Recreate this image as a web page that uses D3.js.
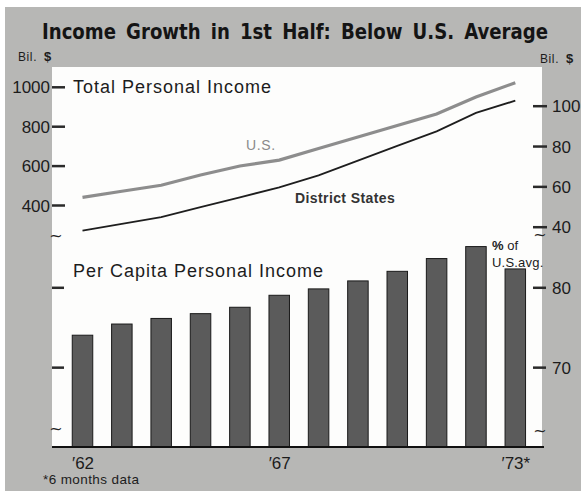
<!DOCTYPE html>
<html>
<head>
<meta charset="utf-8">
<script src="https://cdn.jsdelivr.net/npm/d3@7"></script>
<style>
  body { margin: 0; background: #fff; }
  svg { display: block; font-family: "Liberation Sans", Arial, sans-serif; }
  .axis path.domain { display: none; }
  .axis line { stroke: #2a2a2a; stroke-width: 2.5; }
  .axis text { font-size: 17px; fill: #1c1c1c; }
</style>
</head>
<body>
<div id="chart"></div>
<script>
// data
const years = [1962, 1963, 1964, 1965, 1966, 1967, 1968, 1969, 1970, 1971, 1972, 1973];
const usTotal = [439, 470, 500, 552, 598, 628, 687, 745, 804, 862, 948, 1021];          // left axis, bil $
const districtTotal = [38.1, 41.4, 44.8, 49.7, 54.6, 59.5, 65.5, 72.8, 80.1, 87.3, 96.4, 102.5]; // right axis, bil $
const perCapitaPct = [74.0, 75.4, 76.1, 76.7, 77.5, 79.0, 79.8, 80.8, 82.0, 83.6, 85.1, 82.3];   // % of U.S. avg
const usTicks = [400, 600, 800, 1000];
const districtTicks = [40, 60, 80, 100];
const pctTicks = [70, 80];
const yearLabels = {1962: '\u203262', 1967: '\u203267', 1973: '\u203273*'};

const width = 581, height = 491;
const panel = {left: 52, right: 542, top: 67, bottom: 447};

const svg = d3.select('#chart').append('svg')
    .attr('width', width)
    .attr('height', height);

// grey card + white plot panel
svg.append('rect')
    .attr('x', 5).attr('y', 7)
    .attr('width', width - 5).attr('height', height - 7)
    .attr('fill', '#b7b7b5');
svg.append('rect')
    .attr('x', panel.left).attr('y', panel.top)
    .attr('width', panel.right - panel.left).attr('height', panel.bottom - panel.top)
    .attr('fill', '#fdfdfc');

const x = d3.scalePoint()
    .domain(years)
    .range([82.5, 515.3]);

const yUS = d3.scaleLinear().domain([400, 1000]).range([205, 86.8]);
const yDist = d3.scaleLinear().domain([40, 100]).range([226.7, 105.7]);
const yPct = d3.scaleLinear().domain([60, 80]).range([panel.bottom, 287.3]);

// bars
svg.selectAll('rect.bar')
    .data(perCapitaPct)
    .enter()
    .append('rect')
    .attr('class', 'bar')
    .attr('x', (d, i) => x(years[i]) - 10.25)
    .attr('width', 20.5)
    .attr('y', d => yPct(d))
    .attr('height', d => panel.bottom - yPct(d))
    .attr('fill', '#5b5b5b')
    .attr('stroke', '#1a1a1a')
    .attr('stroke-width', 1);

// lines
const usLine = d3.line().x((d, i) => x(years[i])).y(d => yUS(d));
const distLine = d3.line().x((d, i) => x(years[i])).y(d => yDist(d));

svg.append('path')
    .datum(usTotal)
    .attr('d', usLine)
    .attr('fill', 'none')
    .attr('stroke', '#8d8d8d')
    .attr('stroke-width', 3.2);

svg.append('path')
    .datum(districtTotal)
    .attr('d', distLine)
    .attr('fill', 'none')
    .attr('stroke', '#1e1e1e')
    .attr('stroke-width', 1.8);

// axes
svg.append('g')
    .attr('class', 'axis')
    .attr('transform', `translate(${panel.left}, 0)`)
    .call(d3.axisLeft(yUS).tickValues(usTicks).tickFormat(d3.format('d')).tickSize(-13).tickPadding(2));

svg.append('g')
    .attr('class', 'axis')
    .attr('transform', 'translate(533, 0)')
    .call(d3.axisRight(yDist).tickValues(districtTicks).tickSize(14).tickPadding(5));

svg.append('g')
    .attr('class', 'axis')
    .attr('transform', `translate(${panel.left}, 0)`)
    .call(d3.axisLeft(yPct).tickValues(pctTicks).tickSize(-12).tickFormat(''));

svg.append('g')
    .attr('class', 'axis')
    .attr('transform', 'translate(533, 0)')
    .call(d3.axisRight(yPct).tickValues(pctTicks).tickSize(13).tickPadding(6));

svg.selectAll('.axis text').attr('dy', '0.36em');

// baseline
svg.append('line')
    .attr('x1', panel.left).attr('x2', 544)
    .attr('y1', panel.bottom).attr('y2', panel.bottom)
    .attr('stroke', '#111')
    .attr('stroke-width', 2);

const xAxis = d3.axisBottom(x)
    .tickValues(Object.keys(yearLabels).map(Number))
    .tickFormat(d => yearLabels[d])
    .tickSize(0)
    .tickPadding(10);

const xg = svg.append('g')
    .attr('class', 'axis')
    .attr('transform', `translate(0, ${panel.bottom})`)
    .call(xAxis);
xg.selectAll('text').attr('y', 22).attr('dy', null).style('font-size', '17px');

// axis breaks
const breaks = [[56, 241], [56, 434], [540, 240], [540, 436]];
svg.selectAll('text.brk')
    .data(breaks)
    .enter()
    .append('text')
    .attr('class', 'brk')
    .attr('x', d => d[0]).attr('y', d => d[1])
    .attr('text-anchor', 'middle')
    .style('font-family', '"DejaVu Sans", sans-serif')
    .style('font-size', '16px')
    .attr('fill', '#222')
    .text('~');

// titles and labels
svg.append('text')
    .attr('x', 42).attr('y', 39.3)
    .attr('textLength', 506)
    .attr('lengthAdjust', 'spacingAndGlyphs')
    .style('font-family', '"Liberation Sans Narrow", "DejaVu Sans Condensed", sans-serif')
    .style('font-weight', 'bold')
    .style('font-size', '21px')
    .style('word-spacing', '4px')
    .attr('fill', '#141414')
    .text('Income Growth in 1st Half:  Below U.S. Average');

function bilLabel(xPos, yPos) {
  const t = svg.append('text')
      .attr('x', xPos).attr('y', yPos)
      .style('font-size', '12px')
      .style('letter-spacing', '0.6px')
      .attr('fill', '#1c1c1c');
  t.append('tspan').text('Bil. ');
  t.append('tspan').style('font-weight', 'bold').style('font-size', '13px').attr('dx', 3).text('$');
}
bilLabel(18, 61);
bilLabel(540, 63);

svg.append('text')
    .attr('x', 73).attr('y', 93)
    .style('font-size', '18px')
    .style('letter-spacing', '1px')
    .attr('fill', '#1c1c1c')
    .text('Total Personal Income');

svg.append('text')
    .attr('x', 73).attr('y', 277)
    .style('font-size', '18px')
    .style('letter-spacing', '1px')
    .attr('fill', '#1c1c1c')
    .text('Per Capita Personal Income');

svg.append('text')
    .attr('x', 246).attr('y', 150)
    .style('font-size', '14px')
    .style('letter-spacing', '0.6px')
    .attr('fill', '#8a8a8a')
    .text('U.S.');

svg.append('text')
    .attr('x', 295).attr('y', 203)
    .style('font-size', '14px')
    .style('font-weight', 'bold')
    .style('letter-spacing', '0.4px')
    .attr('fill', '#333')
    .text('District States');

const pct = svg.append('text')
    .attr('x', 492).attr('y', 250)
    .style('font-size', '13px')
    .attr('fill', '#1c1c1c');
pct.append('tspan').style('font-weight', 'bold').text('%');
pct.append('tspan').text(' of');
svg.append('text')
    .attr('x', 492).attr('y', 267)
    .style('font-size', '13px')
    .style('letter-spacing', '0.2px')
    .attr('fill', '#1c1c1c')
    .text('U.S.avg.');

svg.append('text')
    .attr('x', 43).attr('y', 484)
    .style('font-size', '13.5px')
    .style('letter-spacing', '0.4px')
    .attr('fill', '#1c1c1c')
    .text('*6 months data');
</script>
</body>
</html>
